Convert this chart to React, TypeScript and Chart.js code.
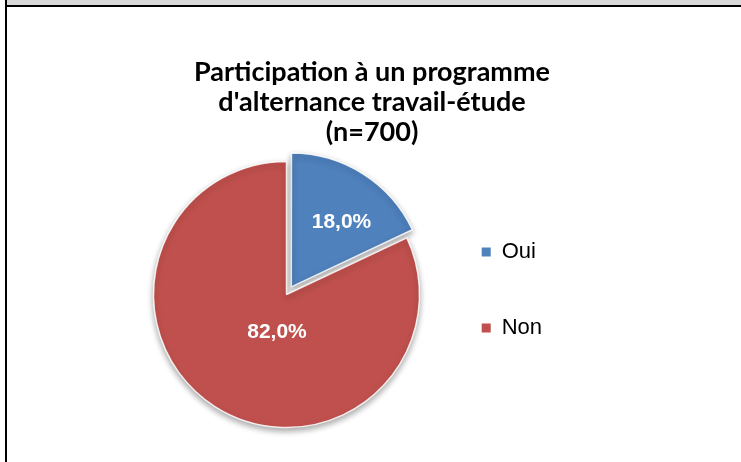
import React, { useEffect, useRef } from "react";
import { Chart, registerables } from "chart.js";

Chart.register(...registerables);

// ---- data ----
const categories = ["Oui", "Non"];
const values = [18.0, 82.0];
const colors = ["#4f81bd", "#c0504d"];
const titleLines = ["Participation à un programme", "d'alternance travail-étude", "(n=700)"];

// ---- style ----
// Chart.js translates an arc by offset / 4, so 36 -> ~9px explosion
const explode = [36, 0];
const labelRadiusFrac = [0.684, 0.295];
const labelAngleShiftDeg = [4.8, -18.4];
const PIE_RADIUS = 133;
const LEGEND_WIDTH = 171;

const formatPct = (v: number) => v.toFixed(1).replace(".", ",") + "%";

const shadowPlugin = {
  id: "pieShadow",
  beforeDatasetsDraw(chart: any) {
    const c = chart.ctx;
    c.save();
    c.shadowColor = "rgba(0,0,0,0.35)";
    c.shadowBlur = 6;
    c.shadowOffsetX = 0;
    c.shadowOffsetY = 3;
  },
  afterDatasetsDraw(chart: any) {
    chart.ctx.restore();
  },
};

const labelPlugin = {
  id: "sliceLabels",
  afterDraw(chart: any) {
    const ctx = chart.ctx;
    const meta = chart.getDatasetMeta(0);
    ctx.save();
    ctx.font = "bold 21px 'Liberation Sans', Arial, sans-serif";
    ctx.fillStyle = "#ffffff";
    ctx.textAlign = "center";
    ctx.textBaseline = "middle";
    meta.data.forEach((arc: any, i: number) => {
      const p = arc.getProps(["x", "y", "startAngle", "endAngle", "outerRadius"], true);
      const a = (p.startAngle + p.endAngle) / 2 + (labelAngleShiftDeg[i] * Math.PI) / 180;
      const r = p.outerRadius * labelRadiusFrac[i];
      ctx.fillText(formatPct(values[i]), p.x + Math.cos(a) * r, p.y + Math.sin(a) * r);
    });
    ctx.restore();
  },
};

const legendWidthPlugin = {
  id: "legendWidth",
  beforeLayout(chart: any) {
    const lg = chart.legend;
    if (lg && !lg.__patched) {
      const orig = lg.fit.bind(lg);
      lg.fit = function () {
        orig();
        if (this.options.display) this.width = LEGEND_WIDTH;
      };
      lg.__patched = true;
    }
  },
};

export default function App() {
  const ref = useRef<HTMLCanvasElement>(null);

  useEffect(() => {
    const chart = new Chart(ref.current as HTMLCanvasElement, {
      type: "pie",
      data: {
        labels: categories,
        datasets: [
          {
            data: values,
            backgroundColor: colors,
            borderColor: "rgba(255,255,255,0.85)",
            borderWidth: 1.5,
            offset: explode,
            hoverOffset: 0,
            radius: PIE_RADIUS,
            clip: false,
          } as any,
        ],
      },
      options: {
        animation: false,
        responsive: false,
        events: [],
        layout: { padding: { top: 0, left: 138.3, right: 142.3, bottom: 60 } },
        plugins: {
          title: {
            display: true,
            text: titleLines,
            color: "#000000",
            font: { family: "Lato", size: 27, weight: "bold", lineHeight: 30 / 27 },
            padding: { top: 50, bottom: 40 },
          },
          legend: {
            display: true,
            position: "right",
            align: "start",
            fullSize: false,
            labels: {
              boxWidth: 9,
              boxHeight: 9,
              padding: 54,
              color: "#000000",
              font: { family: "'Liberation Sans', Arial, sans-serif", size: 22 },
              generateLabels: () =>
                categories.map((c, i) => ({
                  text: c,
                  fillStyle: colors[i],
                  strokeStyle: colors[i],
                  lineWidth: 0,
                  hidden: false,
                  index: i,
                  datasetIndex: 0,
                })),
            },
          },
          tooltip: { enabled: false },
        },
      } as any,
      plugins: [legendWidthPlugin, shadowPlugin, labelPlugin],
    });
    return () => chart.destroy();
  }, []);

  return (
    <div
      style={{
        position: "fixed",
        left: 0,
        top: 0,
        width: 741,
        height: 462,
        background: "#ffffff",
        overflow: "hidden",
      }}
    >
      <div style={{ position: "absolute", left: 7, top: 0, right: 0, height: 5, background: "#d9d9d9" }} />
      <div style={{ position: "absolute", left: 5, top: 5, right: 0, height: 2, background: "#000000" }} />
      <div style={{ position: "absolute", left: 5, top: 0, width: 2, bottom: 0, background: "#000000" }} />
      <canvas
        ref={ref}
        width={734}
        height={455}
        style={{ position: "absolute", left: 7, top: 7, width: 734, height: 455 }}
      />
    </div>
  );
}
